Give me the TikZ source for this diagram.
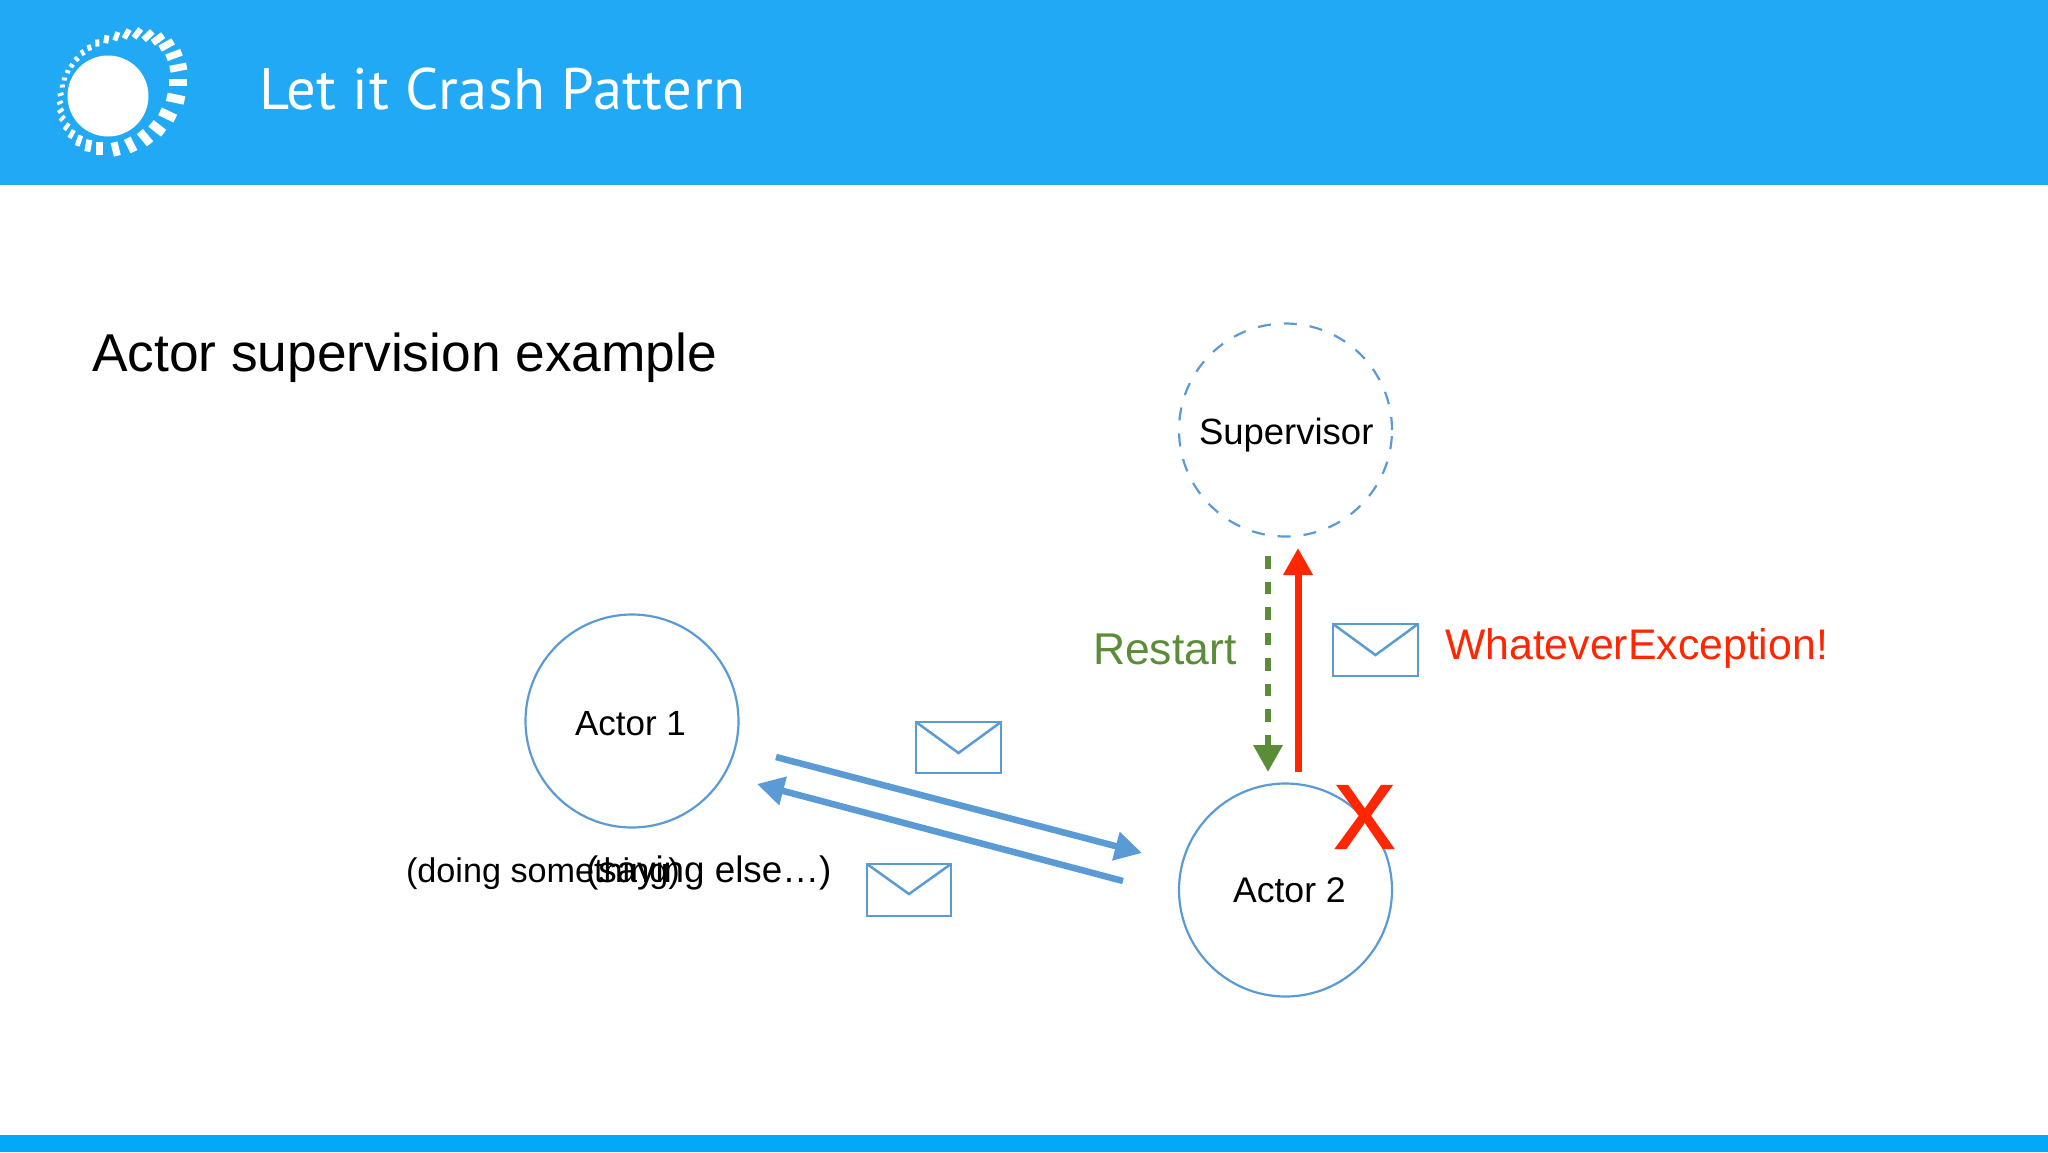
\documentclass[tikz,border=0pt]{standalone}
\usepackage{fontspec}
\setmainfont{Liberation Sans}
\newfontfamily\titlefont[LetterSpace=1.0]{PT Sans}
\newfontfamily\crossfont[FakeBold=2.5]{Liberation Sans}
\usetikzlibrary{arrows.meta}
\definecolor{headerblue}{HTML}{22A9F5}
\definecolor{footerblue}{HTML}{03A9F8}
\definecolor{lineblue}{HTML}{5B9BD5}
\definecolor{alarmred}{HTML}{FF2600}
\definecolor{restartgreen}{HTML}{5B8C37}
\newcommand{\fs}[1]{\fontsize{#1}{#1}\selectfont}
\newcommand{\envelope}[5]{%
  \node[envbox,minimum width=#3,minimum height=#4] (#1) at (#2) {};
  \coordinate (#1v) at ([yshift=#5]#1.north);
  \draw[envline] (#1.north west) -- (#1v) -- (#1.north east);
}
\tikzset{
  actor/.style={circle,draw=lineblue,line width=2.2pt,minimum size=213pt,inner sep=0pt},
  supervisor/.style={actor,dash pattern=on 13pt off 13pt},
  lbl/.style={anchor=base west,inner sep=0pt,outer sep=0pt,text=black,font=\fs{35}},
  envbox/.style={rectangle,draw=lineblue,line width=2.5pt,inner sep=0pt,outer sep=0pt},
  envline/.style={draw=lineblue,line width=2.5pt,line join=miter},
  bluearrow/.style={draw=lineblue,line width=6.5pt,-{Triangle[length=27pt,width=28pt]}},
  redarrow/.style={draw=alarmred,line width=7pt,-{Triangle[length=27pt,width=28pt]}},
  greenarrow/.style={draw=restartgreen,line width=6.5pt,dash pattern=on 12.5pt off 13pt,-{Triangle[length=27pt,width=28pt,sep=0pt]}},
}
\begin{document}
\begin{tikzpicture}[x=1pt,y=-1pt]
\useasboundingbox (0,0) rectangle (2048,1152);
\fill[white] (0,0) rectangle (2048,1152);
\fill[headerblue] (0,0) rectangle (2048,185);
\fill[footerblue] (0,1135) rectangle (2048,1152);
% logo
\fill[white] (108,96) circle (40.5);
\foreach \zx/\zy/\dlen/\dwid in {
535/248/18/7, 535/203/17/7, 522/165/16/7, 500/135/15/7, 474/117/13/7, 444/107/12/6.5,
412/100/11/6, 380/102/10/5.5, 349/109/9/5, 319/118/8/5, 292/129/7/4, 268/143/6/4,
248/158/6/3.5, 230/177/5.5/3.5, 215/197/5/3.5, 203/215/5/3, 193/237/5/3, 187/258/5/3,
182/283/6/3, 180/308/6/3, 182/332/6.5/3.5, 187/355/7/3.5, 200/380/8/4, 215/402/9/4.5,
237/422/11/5, 265/437/12/6, 298/445/13/6.5, 347/447/14/7, 392/435/15/7.5, 435/413/16/8,
472/385/16/8.5, 503/345/17/8.5, 527/296/18/8.5}{
  \pgfmathsetmacro{\ddist}{veclen(\zx-298,\zy-248)}
  \pgfmathsetmacro{\ux}{(\zx-298)/\ddist}
  \pgfmathsetmacro{\uy}{(\zy-248)/\ddist}
  \draw[white,line width=\dwid pt] ({\zx/3+\ux*\dlen/2},{\zy/3+\uy*\dlen/2}) -- ({\zx/3-\ux*\dlen/2},{\zy/3-\uy*\dlen/2});
}
% texts
\node[anchor=base west,inner sep=0pt,text=white,font=\titlefont\fs{58.5}] (title) at (259,109) {Let it Crash Pattern};
\node[lbl,font=\fs{53.3}] (heading) at (92,371) {Actor supervision example};
% circles
\node[supervisor] (sup) at (1285.5,430) {};
\node[actor] (a1) at (632,721) {};
\node[actor] (a2) at (1285.5,890) {};
\node[lbl,font=\fs{36.5}] (suplbl) at (1199,444) {Supervisor};
\node[lbl] (a1lbl) at (575,735) {Actor 1};
\node[lbl,font=\fs{35.6}] (a2lbl) at (1233,902) {Actor 2};
\node[lbl,font=\fs{34.2}] (doing) at (406,882) {(doing something)};
\node[lbl,font=\fs{36.8}] (saying) at (586,882) {(saying else…)};
\node[lbl,text=restartgreen,font=\fs{44.5}] (restart) at (1093,664) {Restart};
\node[lbl,text=alarmred,font=\fs{42.8}] (exc) at (1445,659) {WhateverException!};
\node[anchor=base,inner sep=0pt,text=alarmred,font=\crossfont\fs{90}] (cross) at (1364.5,848) {X};
% envelopes
\envelope{env1}{958.5,747.5}{85pt}{51pt}{-31pt}
\envelope{env2}{909,890}{84pt}{52pt}{-30pt}
\envelope{env3}{1375.5,650}{85pt}{52pt}{-31pt}
% connector ends
\coordinate (b1s) at (776,757);
\coordinate (b1e) at (1142,853);
\coordinate (b2s) at (1123,881);
\coordinate (b2e) at (757,784);
\coordinate (rs) at (1298,772);
\coordinate (re) at (1298,548);
\coordinate (gs) at (1268,556);
\coordinate (ge) at (1268,772);
\draw[bluearrow] (b1s) -- (b1e);
\draw[bluearrow] (b2s) -- (b2e);
\draw[redarrow] (rs) -- (re);
\draw[greenarrow] (gs) -- (ge);
\end{tikzpicture}
\end{document}
